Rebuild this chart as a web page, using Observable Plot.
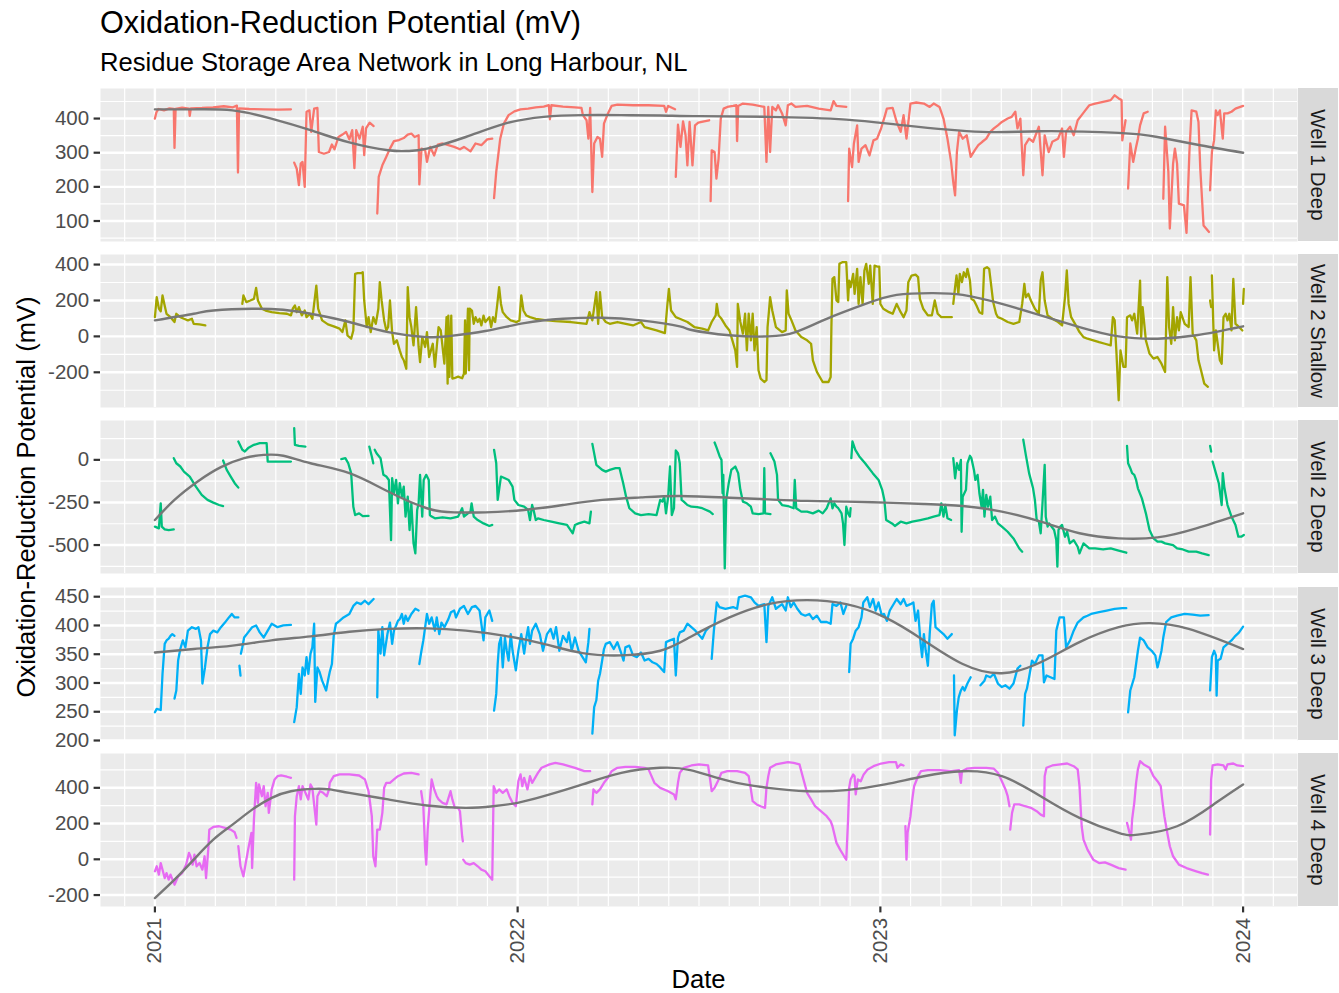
<!DOCTYPE html>
<html><head><meta charset="utf-8">
<script src="https://cdn.jsdelivr.net/npm/d3@7"></script>
<script src="https://cdn.jsdelivr.net/npm/@observablehq/plot@0.6"></script>
<style>
html,body{margin:0;padding:0;background:#fff;overflow:hidden;}
#chart{position:relative;width:1339px;height:993px;font-family:"Liberation Sans",Arial,sans-serif;color:#000;}
.abs{position:absolute;white-space:nowrap;line-height:1;}
</style></head><body><div id="chart"></div>
<script>
// ---------------- DATA ----------------
const titleText = "Oxidation-Reduction Potential (mV)";
const subtitleText = "Residue Storage Area Network in Long Harbour, NL";
const xTitle = "Date";
const yTitle = "Oxidation-Reduction Potential (mV)";
const wellNames = ["Well 1 Deep", "Well 2 Shallow", "Well 2 Deep", "Well 3 Deep", "Well 4 Deep"];
const yearTicks = [2021, 2022, 2023, 2024];
const yMajors = [[100,200,300,400],[-200,0,200,400],[-500,-250,0],[200,250,300,350,400,450],[-200,0,200,400]];
const yMinors = [[50,150,250,350,450],[-300,-100,100,300],[-625,-375,-125,125],[225,275,325,375,425],[-100,100,300,500]];
const yLimits = [[40,488],[-396,456],[-667,231],[200,466],[-264,592]];

// series: arrays of continuous segments of [decimal year, mV]
const well1Deep = [
 [[2021.000,400],[2021.004,418],[2021.010,428],[2021.025,424],[2021.040,430],[2021.052,428],[2021.054,314],[2021.057,428],[2021.075,432],[2021.094,429],[2021.096,408],[2021.099,430],[2021.130,431],[2021.160,433],[2021.190,436],[2021.215,433],[2021.226,438],[2021.229,242],[2021.232,430],[2021.260,428],[2021.300,427],[2021.340,426],[2021.375,427]],
 [[2021.384,271],[2021.391,253],[2021.397,205],[2021.402,268],[2021.407,273],[2021.413,200],[2021.418,420],[2021.426,424],[2021.431,361],[2021.439,429],[2021.448,431],[2021.452,302],[2021.466,297],[2021.480,302],[2021.488,324],[2021.495,310],[2021.506,346],[2021.517,353],[2021.527,361],[2021.536,339],[2021.544,366],[2021.550,255],[2021.555,366],[2021.564,341],[2021.573,376],[2021.577,293],[2021.582,371],[2021.592,388],[2021.603,378]],
 [[2021.613,122],[2021.617,229],[2021.627,263],[2021.638,288],[2021.648,312],[2021.659,334],[2021.673,337],[2021.686,343],[2021.697,353],[2021.707,356],[2021.716,346],[2021.727,351],[2021.729,207],[2021.735,312],[2021.745,307],[2021.750,273],[2021.759,317],[2021.770,292],[2021.780,324],[2021.793,327],[2021.809,322],[2021.825,317],[2021.841,310],[2021.852,317],[2021.870,304],[2021.884,327],[2021.900,322],[2021.916,339],[2021.930,341]],
 [[2021.935,167],[2021.941,244],[2021.952,341],[2021.962,385],[2021.975,410],[2021.991,421],[2022.008,427],[2022.029,429],[2022.050,433],[2022.072,435],[2022.086,439],[2022.089,398],[2022.093,439],[2022.125,435],[2022.158,433],[2022.176,431],[2022.180,410],[2022.190,395],[2022.195,341],[2022.200,431],[2022.206,185],[2022.211,327],[2022.220,346],[2022.227,341],[2022.233,288],[2022.238,385],[2022.249,415],[2022.259,437],[2022.275,441],[2022.318,439],[2022.361,439],[2022.404,437],[2022.409,420],[2022.415,437],[2022.434,427]],
 [[2022.436,229],[2022.442,382],[2022.449,317],[2022.456,392],[2022.463,351],[2022.468,263],[2022.474,390],[2022.482,263],[2022.489,380],[2022.498,388],[2022.514,392],[2022.528,395]],
 [[2022.532,158],[2022.535,307],[2022.543,302],[2022.548,224],[2022.554,283],[2022.560,400],[2022.568,429],[2022.578,434],[2022.594,437],[2022.603,439],[2022.605,334],[2022.608,437],[2022.621,444],[2022.648,441],[2022.680,434],[2022.686,273],[2022.691,434],[2022.696,302],[2022.702,434],[2022.712,424],[2022.718,439],[2022.729,415],[2022.739,380],[2022.745,439],[2022.755,444],[2022.766,434],[2022.798,437],[2022.830,429],[2022.863,424],[2022.871,451],[2022.879,437],[2022.906,434]],
 [[2022.911,158],[2022.914,312],[2022.922,258],[2022.927,327],[2022.936,380],[2022.940,273],[2022.948,312],[2022.959,322],[2022.970,292],[2022.981,336],[2022.991,341],[2023.002,371],[2023.013,410],[2023.018,429],[2023.034,431],[2023.045,390],[2023.056,361],[2023.064,410],[2023.072,341],[2023.083,444],[2023.099,447],[2023.120,444],[2023.136,434],[2023.147,444],[2023.163,434],[2023.174,400],[2023.185,341],[2023.195,273],[2023.201,214],[2023.206,175],[2023.211,302],[2023.217,361],[2023.227,341],[2023.238,351],[2023.249,288],[2023.260,307],[2023.270,322],[2023.281,332],[2023.292,341],[2023.303,361],[2023.313,371],[2023.324,380],[2023.335,390],[2023.351,400],[2023.362,405],[2023.372,420],[2023.378,371],[2023.386,400],[2023.394,234],[2023.399,322],[2023.410,341],[2023.421,332],[2023.437,376],[2023.447,234],[2023.453,351],[2023.464,302],[2023.474,332],[2023.490,341],[2023.501,371],[2023.506,288],[2023.512,361],[2023.523,376],[2023.533,351],[2023.544,395],[2023.555,410],[2023.565,424],[2023.576,439],[2023.592,444],[2023.614,449],[2023.635,454],[2023.646,468],[2023.657,459],[2023.665,454],[2023.667,336],[2023.676,395]],
 [[2023.683,195],[2023.689,327],[2023.697,273],[2023.705,317],[2023.710,341],[2023.716,380],[2023.726,415],[2023.737,420]],
 [[2023.780,165],[2023.785,376],[2023.794,244],[2023.798,78],[2023.807,268],[2023.812,312],[2023.818,268],[2023.823,151],[2023.837,146],[2023.844,65],[2023.852,302],[2023.858,424],[2023.871,420],[2023.877,390],[2023.882,253],[2023.891,87],[2023.898,78],[2023.906,68]],
 [[2023.909,190],[2023.914,302],[2023.920,336],[2023.925,424],[2023.930,410],[2023.936,424],[2023.944,341],[2023.948,415],[2023.957,415],[2023.968,420],[2023.979,429],[2024.000,437]]
];

const well2Shallow = [
 [[2021.000,107],[2021.005,218],[2021.011,155],[2021.016,140],[2021.021,228],[2021.027,170],[2021.032,126],[2021.043,107],[2021.054,80],[2021.059,126],[2021.070,107],[2021.080,98],[2021.091,89],[2021.102,98],[2021.107,70],[2021.123,67],[2021.139,61]],
 [[2021.241,181],[2021.244,228],[2021.252,191],[2021.263,200],[2021.273,209],[2021.279,270],[2021.284,200],[2021.295,154],[2021.305,144],[2021.322,135],[2021.343,130],[2021.364,126],[2021.375,117],[2021.380,154],[2021.386,172],[2021.391,135],[2021.397,163],[2021.405,117],[2021.413,144],[2021.418,107],[2021.427,126],[2021.434,98],[2021.439,181],[2021.445,283],[2021.450,154],[2021.461,89],[2021.477,67],[2021.493,56],[2021.509,43],[2021.517,24],[2021.525,89],[2021.531,5],[2021.541,-13],[2021.547,33],[2021.549,154],[2021.552,348],[2021.559,352],[2021.568,352],[2021.573,357],[2021.577,200],[2021.584,52],[2021.589,107],[2021.595,24],[2021.602,107],[2021.609,70],[2021.616,154],[2021.620,302],[2021.625,200],[2021.632,89],[2021.638,33],[2021.643,52],[2021.648,200],[2021.654,24],[2021.659,-41],[2021.667,-22],[2021.675,-78],[2021.681,-115],[2021.686,-133],[2021.693,-180],[2021.697,274],[2021.702,107],[2021.707,52],[2021.713,-50],[2021.720,163],[2021.727,-59],[2021.731,-143],[2021.737,-4],[2021.745,-59],[2021.750,24],[2021.756,-115],[2021.761,-78],[2021.766,-41],[2021.772,-170],[2021.777,-59],[2021.782,52],[2021.788,33],[2021.793,-59],[2021.798,-152],[2021.804,107],[2021.807,-263],[2021.809,116],[2021.812,-226],[2021.817,116],[2021.820,-235],[2021.825,-233],[2021.836,-224],[2021.847,-233],[2021.852,-207],[2021.855,89],[2021.857,-207],[2021.863,154],[2021.866,-189],[2021.868,154],[2021.874,144],[2021.879,70],[2021.884,107],[2021.890,80],[2021.895,98],[2021.900,61],[2021.906,116],[2021.911,80],[2021.922,107],[2021.927,52],[2021.932,107],[2021.938,80],[2021.943,163],[2021.949,274],[2021.954,181],[2021.959,135],[2021.970,107],[2021.981,89],[2021.997,80],[2022.005,89],[2022.010,228],[2022.016,144],[2022.024,116],[2022.034,107],[2022.050,98],[2022.083,89],[2022.104,85],[2022.147,80],[2022.190,70],[2022.198,135],[2022.206,89],[2022.217,246],[2022.222,70],[2022.227,246],[2022.233,107],[2022.243,80],[2022.254,70],[2022.275,80],[2022.318,61],[2022.340,80],[2022.350,52],[2022.383,33],[2022.406,18],[2022.413,181],[2022.417,265],[2022.423,144],[2022.436,107],[2022.447,98],[2022.468,80],[2022.487,52],[2022.509,43],[2022.525,33],[2022.535,80],[2022.546,117],[2022.549,181],[2022.554,117],[2022.562,98],[2022.573,61],[2022.584,33],[2022.592,-22],[2022.600,-78],[2022.605,-170],[2022.607,181],[2022.614,80],[2022.621,15],[2022.627,126],[2022.632,-78],[2022.637,126],[2022.643,-22],[2022.648,126],[2022.653,-78],[2022.659,52],[2022.664,-189],[2022.670,-235],[2022.680,-254],[2022.686,-244],[2022.689,52],[2022.693,144],[2022.696,218],[2022.702,144],[2022.712,52],[2022.729,24],[2022.739,33],[2022.742,256],[2022.747,126],[2022.755,89],[2022.766,33],[2022.782,-4],[2022.798,-22],[2022.809,-41],[2022.814,-133],[2022.825,-198],[2022.841,-254],[2022.857,-254],[2022.863,-226],[2022.865,52],[2022.868,320],[2022.873,330],[2022.879,200],[2022.884,191],[2022.887,404],[2022.895,413],[2022.906,413],[2022.911,200],[2022.914,311],[2022.918,274],[2022.925,348],[2022.929,237],[2022.936,376],[2022.940,181],[2022.945,330],[2022.951,181],[2022.956,367],[2022.961,404],[2022.968,293],[2022.972,394],[2022.979,181],[2022.984,394],[2022.991,389],[2022.997,389],[2023.000,181],[2023.008,154],[2023.024,135],[2023.034,126],[2023.045,181],[2023.056,135],[2023.064,107],[2023.072,144],[2023.077,302],[2023.086,339],[2023.097,344],[2023.104,330],[2023.109,209],[2023.118,154],[2023.131,117],[2023.142,117],[2023.150,200],[2023.158,126],[2023.168,107],[2023.185,107],[2023.197,107]],
 [[2023.201,181],[2023.206,274],[2023.210,339],[2023.215,237],[2023.219,348],[2023.225,302],[2023.230,357],[2023.236,330],[2023.240,376],[2023.247,311],[2023.251,209],[2023.258,200],[2023.265,172],[2023.273,135],[2023.281,126],[2023.286,376],[2023.294,385],[2023.300,376],[2023.305,293],[2023.311,191],[2023.319,126],[2023.324,107],[2023.335,98],[2023.351,80],[2023.367,70],[2023.383,80],[2023.391,181],[2023.397,293],[2023.401,218],[2023.408,237],[2023.415,200],[2023.426,154],[2023.437,126],[2023.442,311],[2023.447,357],[2023.453,200],[2023.461,117],[2023.474,98],[2023.490,80],[2023.501,61],[2023.509,218],[2023.514,367],[2023.519,181],[2023.526,107],[2023.539,61],[2023.549,24],[2023.560,-4],[2023.571,-13],[2023.587,-22],[2023.603,-32],[2023.619,-41],[2023.635,-50],[2023.641,107],[2023.646,89],[2023.651,-96],[2023.657,-356],[2023.662,-78],[2023.670,-170],[2023.676,-170],[2023.680,107],[2023.689,117],[2023.694,89],[2023.700,126],[2023.708,15],[2023.716,311],[2023.719,-4],[2023.723,163],[2023.732,-22],[2023.737,-59],[2023.742,-96],[2023.753,-124],[2023.764,-115],[2023.775,-152],[2023.785,-198],[2023.791,330],[2023.796,52],[2023.802,-41],[2023.807,163],[2023.812,-22],[2023.818,107],[2023.823,33],[2023.828,135],[2023.839,70],[2023.850,52],[2023.855,330],[2023.861,15],[2023.871,-22],[2023.877,-133],[2023.884,-189],[2023.893,-263],[2023.903,-281]],
 [[2023.909,200],[2023.912,163]],
 [[2023.914,339],[2023.920,-78],[2023.925,33],[2023.930,-41],[2023.936,-133],[2023.941,-152],[2023.946,107],[2023.952,126],[2023.957,89],[2023.962,126],[2023.968,33],[2023.973,320],[2023.979,70],[2023.984,61],[2023.989,52],[2023.998,33]],
 [[2024.000,181],[2024.002,265]]
];

const well2Deep = [
 [[2021.000,-392],[2021.011,-402],[2021.016,-255],[2021.019,-392],[2021.027,-408],[2021.038,-412],[2021.052,-408]],
 [[2021.052,10],[2021.059,-20],[2021.070,-39],[2021.080,-69],[2021.096,-98],[2021.113,-157],[2021.129,-206],[2021.145,-235],[2021.161,-251],[2021.177,-265],[2021.188,-271]],
 [[2021.188,-4],[2021.198,-59],[2021.209,-98],[2021.220,-137],[2021.230,-163]],
 [[2021.230,108],[2021.241,59],[2021.248,49],[2021.257,69],[2021.273,88],[2021.289,98],[2021.308,98],[2021.311,-10],[2021.343,-10],[2021.375,-10]],
 [[2021.384,186],[2021.386,88],[2021.397,82],[2021.415,78]],
 [[2021.514,4],[2021.525,10],[2021.533,-20],[2021.541,-78],[2021.547,-275],[2021.552,-324],[2021.563,-314],[2021.573,-330],[2021.589,-329]],
 [[2021.591,78],[2021.598,20],[2021.602,-20]],
 [[2021.606,59],[2021.611,39],[2021.622,10],[2021.630,-88],[2021.638,-98],[2021.645,-118],[2021.651,-471],[2021.654,-108],[2021.659,-196],[2021.665,-118],[2021.670,-255],[2021.675,-137],[2021.681,-216],[2021.686,-157],[2021.691,-333],[2021.697,-216],[2021.702,-412],[2021.707,-255],[2021.713,-490],[2021.718,-549],[2021.723,-294],[2021.727,-255],[2021.731,-88],[2021.737,-333],[2021.741,-118],[2021.748,-88],[2021.755,-118],[2021.758,-324],[2021.763,-333],[2021.772,-343],[2021.793,-337],[2021.815,-343],[2021.836,-333],[2021.847,-284],[2021.852,-333],[2021.863,-314],[2021.870,-304],[2021.873,-255],[2021.879,-333],[2021.890,-353],[2021.906,-373],[2021.922,-388],[2021.930,-382]],
 [[2021.935,59],[2021.941,-20],[2021.945,-235],[2021.954,-98],[2021.965,-108],[2021.975,-118],[2021.986,-157],[2021.991,-235],[2022.002,-265],[2022.018,-275],[2022.029,-294],[2022.034,-353],[2022.040,-265],[2022.045,-304],[2022.050,-353],[2022.056,-343],[2022.072,-353],[2022.093,-363],[2022.115,-373],[2022.136,-382],[2022.152,-431],[2022.158,-382],[2022.168,-373],[2022.184,-363],[2022.198,-373],[2022.202,-304]],
 [[2022.206,94],[2022.217,-29],[2022.233,-59],[2022.243,-69],[2022.254,-59],[2022.270,-49],[2022.281,-49],[2022.291,-137],[2022.299,-216],[2022.308,-284],[2022.324,-314],[2022.340,-324],[2022.361,-318],[2022.383,-324],[2022.393,-235],[2022.399,-245],[2022.404,-216],[2022.409,-314],[2022.415,-216],[2022.420,-39],[2022.425,-324],[2022.431,-284],[2022.436,55],[2022.442,39],[2022.447,-20],[2022.452,-235],[2022.458,-245],[2022.468,-265],[2022.479,-275],[2022.495,-278],[2022.509,-284],[2022.530,-304],[2022.538,-318]],
 [[2022.543,102],[2022.549,69],[2022.557,20],[2022.562,0],[2022.565,-196],[2022.567,-88],[2022.571,-637],[2022.575,-235],[2022.582,-137],[2022.589,-59],[2022.600,-39],[2022.608,-78],[2022.614,-176],[2022.621,-245],[2022.632,-255],[2022.643,-275],[2022.648,-314],[2022.664,-318],[2022.678,-314],[2022.680,-49],[2022.682,-314],[2022.697,-318]],
 [[2022.697,39],[2022.708,-10],[2022.715,-88],[2022.718,-235],[2022.729,-265],[2022.745,-271],[2022.761,-284],[2022.764,-118],[2022.768,-284],[2022.782,-304],[2022.798,-304],[2022.814,-314],[2022.830,-298],[2022.841,-314],[2022.852,-284],[2022.863,-226],[2022.868,-284],[2022.873,-255],[2022.879,-275],[2022.884,-284],[2022.893,-314],[2022.897,-373],[2022.901,-500],[2022.906,-275],[2022.911,-314],[2022.916,-333],[2022.918,-284]],
 [[2022.920,10],[2022.923,108],[2022.931,59],[2022.942,20],[2022.958,-20],[2022.979,-78],[2022.995,-118],[2023.005,-176],[2023.011,-235],[2023.016,-353],[2023.032,-373],[2023.040,-388],[2023.056,-363],[2023.072,-373],[2023.088,-363],[2023.110,-353],[2023.131,-343],[2023.147,-333],[2023.163,-324],[2023.168,-255],[2023.174,-333],[2023.179,-265],[2023.185,-343],[2023.195,-353]],
 [[2023.201,10],[2023.206,-108],[2023.211,-20],[2023.217,-59],[2023.222,0],[2023.224,-422],[2023.227,-216],[2023.236,-176],[2023.240,-20],[2023.247,24],[2023.251,10],[2023.258,-59],[2023.262,-118],[2023.268,-88],[2023.273,-196],[2023.279,-275],[2023.283,-176],[2023.287,-333],[2023.292,-206],[2023.297,-275],[2023.303,-216],[2023.308,-353],[2023.316,-333],[2023.324,-373],[2023.335,-392],[2023.351,-422],[2023.367,-461],[2023.383,-520],[2023.391,-539]],
 [[2023.394,118],[2023.401,29],[2023.410,-78],[2023.421,-167],[2023.426,-235],[2023.431,-353],[2023.437,-363],[2023.442,-431],[2023.447,-255],[2023.453,-29],[2023.456,-333],[2023.461,-392],[2023.465,-373],[2023.472,-392],[2023.479,-412],[2023.485,-471],[2023.488,-627],[2023.491,-412],[2023.496,-392],[2023.501,-382],[2023.509,-451],[2023.515,-422],[2023.522,-490],[2023.533,-471],[2023.544,-510],[2023.549,-549],[2023.560,-490],[2023.576,-520],[2023.592,-520],[2023.614,-526],[2023.635,-520],[2023.657,-533],[2023.678,-545]],
 [[2023.680,82],[2023.683,-20],[2023.689,-49],[2023.694,-78],[2023.700,-88],[2023.705,-118],[2023.710,-167],[2023.721,-226],[2023.732,-314],[2023.742,-412],[2023.753,-461],[2023.764,-480],[2023.775,-480],[2023.785,-490],[2023.807,-500],[2023.818,-520],[2023.834,-526],[2023.850,-539],[2023.871,-539],[2023.887,-549],[2023.905,-559]],
 [[2023.909,82],[2023.912,49]],
 [[2023.916,-10],[2023.925,-78],[2023.933,-137],[2023.941,-265],[2023.944,-78],[2023.948,-157],[2023.957,-265],[2023.968,-333],[2023.979,-382],[2023.987,-451],[2023.995,-451],[2024.002,-441]]
];

const well3Deep = [
 [[2021.000,249],[2021.005,255],[2021.016,253],[2021.021,316],[2021.027,368],[2021.032,374],[2021.038,377],[2021.043,382],[2021.048,385],[2021.054,382]],
 [[2021.054,273],[2021.059,287],[2021.064,339],[2021.070,359],[2021.077,374],[2021.084,362],[2021.091,391],[2021.102,397],[2021.113,394],[2021.120,397],[2021.127,374],[2021.131,299],[2021.138,327],[2021.145,362],[2021.152,385],[2021.161,391],[2021.172,388],[2021.182,397],[2021.193,405],[2021.204,414],[2021.212,420],[2021.220,414],[2021.230,414]],
 [[2021.233,330],[2021.236,313]],
 [[2021.237,351],[2021.241,362],[2021.246,379],[2021.257,388],[2021.268,397],[2021.279,400],[2021.289,388],[2021.300,379],[2021.311,391],[2021.322,403],[2021.338,397],[2021.354,400],[2021.375,401]],
 [[2021.384,232],[2021.391,258],[2021.397,316],[2021.402,281],[2021.407,327],[2021.413,313],[2021.418,345],[2021.423,316],[2021.429,351],[2021.434,362],[2021.439,403],[2021.442,267],[2021.448,327],[2021.454,319],[2021.461,304],[2021.472,287],[2021.477,304],[2021.482,319],[2021.488,333],[2021.493,382],[2021.499,403],[2021.509,408],[2021.520,414],[2021.536,420],[2021.547,434],[2021.557,440],[2021.568,437],[2021.579,443],[2021.589,437],[2021.603,446]],
 [[2021.613,275],[2021.616,391],[2021.622,351],[2021.627,397],[2021.632,348],[2021.641,385],[2021.648,405],[2021.654,368],[2021.659,391],[2021.665,400],[2021.670,408],[2021.675,411],[2021.681,420],[2021.686,403],[2021.691,417],[2021.697,408],[2021.707,420],[2021.718,429],[2021.727,426]],
 [[2021.729,333],[2021.734,353],[2021.740,374],[2021.750,420],[2021.756,403],[2021.763,414],[2021.772,391],[2021.777,414],[2021.784,385],[2021.790,405],[2021.798,397],[2021.809,411],[2021.816,423],[2021.825,426],[2021.830,414],[2021.841,429],[2021.852,434],[2021.863,420],[2021.874,432],[2021.884,434],[2021.895,426],[2021.900,403],[2021.906,374],[2021.911,414],[2021.922,426],[2021.930,408]],
 [[2021.935,252],[2021.941,281],[2021.945,333],[2021.949,368],[2021.954,379],[2021.959,327],[2021.965,379],[2021.970,356],[2021.975,339],[2021.981,385],[2021.986,356],[2021.995,322],[2022.002,356],[2022.010,385],[2022.018,351],[2022.024,379],[2022.029,397],[2022.034,368],[2022.040,391],[2022.050,403],[2022.061,385],[2022.070,356],[2022.081,385],[2022.091,394],[2022.099,377],[2022.106,397],[2022.115,356],[2022.125,382],[2022.136,371],[2022.141,388],[2022.149,356],[2022.158,379],[2022.168,356],[2022.179,345],[2022.188,336],[2022.195,371],[2022.198,394]],
 [[2022.206,212],[2022.211,258],[2022.217,270],[2022.222,304],[2022.227,316],[2022.233,339],[2022.238,359],[2022.243,368],[2022.254,371],[2022.265,359],[2022.275,371],[2022.286,351],[2022.292,339],[2022.297,362],[2022.308,365],[2022.318,348],[2022.329,345],[2022.340,353],[2022.350,339],[2022.361,342],[2022.372,336],[2022.383,333],[2022.393,327],[2022.404,319],[2022.409,371],[2022.420,374],[2022.431,377],[2022.436,313],[2022.442,379],[2022.447,388],[2022.458,391],[2022.468,403],[2022.479,397],[2022.490,391],[2022.509,377],[2022.519,391],[2022.528,397]],
 [[2022.535,342],[2022.541,391],[2022.549,440],[2022.556,432],[2022.573,429],[2022.594,432],[2022.605,429],[2022.610,449],[2022.627,452],[2022.643,449],[2022.653,440],[2022.664,434],[2022.680,437],[2022.686,371],[2022.691,434],[2022.702,449],[2022.712,429],[2022.729,437],[2022.739,426],[2022.745,449],[2022.753,432],[2022.761,440],[2022.771,429],[2022.782,420],[2022.793,417],[2022.804,420],[2022.814,411],[2022.825,417],[2022.836,406],[2022.852,406],[2022.863,403],[2022.868,437],[2022.879,434],[2022.890,440],[2022.898,420],[2022.906,434]],
 [[2022.914,319],[2022.918,368],[2022.925,377],[2022.932,391],[2022.940,397],[2022.948,414],[2022.953,440],[2022.964,449],[2022.971,432],[2022.980,446],[2022.987,426],[2022.995,440],[2023.004,417],[2023.010,420],[2023.018,408],[2023.026,426],[2023.045,446],[2023.056,437],[2023.064,446],[2023.072,434],[2023.083,437],[2023.091,440],[2023.097,408],[2023.104,426],[2023.111,368],[2023.115,345],[2023.120,385],[2023.125,356],[2023.131,330],[2023.136,385],[2023.142,437],[2023.147,443],[2023.152,397],[2023.163,391],[2023.174,385],[2023.185,377],[2023.197,385]],
 [[2023.203,313],[2023.205,209],[2023.211,252],[2023.216,275],[2023.222,287],[2023.227,293],[2023.232,287],[2023.240,299],[2023.249,310]],
 [[2023.276,296],[2023.287,304],[2023.292,313],[2023.303,310],[2023.313,316],[2023.324,299],[2023.335,293],[2023.345,296],[2023.356,290],[2023.367,299],[2023.378,325],[2023.386,330]],
 [[2023.394,226],[2023.399,281],[2023.404,290],[2023.410,310],[2023.418,339],[2023.426,333],[2023.437,348],[2023.447,348],[2023.451,301],[2023.458,313],[2023.469,310],[2023.480,307],[2023.485,391],[2023.494,414],[2023.506,414],[2023.512,362],[2023.523,374],[2023.533,391],[2023.544,405],[2023.560,414],[2023.571,417],[2023.581,420],[2023.603,423],[2023.624,426],[2023.646,429],[2023.667,430],[2023.678,430]],
 [[2023.683,249],[2023.689,287],[2023.700,310],[2023.705,333],[2023.710,356],[2023.716,379],[2023.726,374],[2023.737,362],[2023.748,356],[2023.758,348],[2023.764,327],[2023.769,339],[2023.775,356],[2023.780,379],[2023.788,406],[2023.802,414],[2023.818,417],[2023.839,420],[2023.861,419],[2023.882,417],[2023.905,418]],
 [[2023.909,287],[2023.914,345],[2023.920,356],[2023.925,348],[2023.927,278],[2023.930,339],[2023.938,342],[2023.946,362],[2023.957,368],[2023.968,374],[2023.979,382],[2023.989,388],[2024.000,398]]
];

const well4Deep = [
 [[2021.000,-67],[2021.005,-39],[2021.011,-86],[2021.016,-21],[2021.021,-58],[2021.027,-105],[2021.032,-77],[2021.038,-114],[2021.043,-86],[2021.054,-142],[2021.064,-95],[2021.075,-77],[2021.086,-30],[2021.094,36],[2021.098,17],[2021.104,-30],[2021.109,26],[2021.115,-39],[2021.123,-21],[2021.131,-58],[2021.137,17],[2021.141,-105],[2021.147,54],[2021.150,166],[2021.161,181],[2021.177,185],[2021.193,176],[2021.209,166],[2021.220,151],[2021.225,120]],
 [[2021.230,73],[2021.236,-39],[2021.244,-95],[2021.248,-49],[2021.257,54],[2021.266,148],[2021.268,-49],[2021.273,222],[2021.279,428],[2021.284,316],[2021.287,419],[2021.295,353],[2021.300,409],[2021.305,297],[2021.311,372],[2021.314,260],[2021.322,391],[2021.330,447],[2021.338,465],[2021.348,469],[2021.364,462],[2021.375,456]],
 [[2021.384,-114],[2021.386,241],[2021.391,353],[2021.397,409],[2021.402,335],[2021.407,409],[2021.415,372],[2021.423,335],[2021.429,419],[2021.434,400],[2021.445,194],[2021.448,353],[2021.455,381],[2021.464,372],[2021.474,353],[2021.480,391],[2021.482,428],[2021.493,465],[2021.509,475],[2021.536,475],[2021.563,469],[2021.579,447],[2021.589,381],[2021.598,241],[2021.602,17],[2021.608,-39],[2021.613,166],[2021.620,166],[2021.627,260],[2021.632,400],[2021.638,428],[2021.648,428],[2021.659,447],[2021.670,465],[2021.686,480],[2021.707,484],[2021.727,475]],
 [[2021.734,381],[2021.740,297],[2021.745,54],[2021.748,-30],[2021.752,166],[2021.759,353],[2021.763,447],[2021.770,391],[2021.777,353],[2021.782,335],[2021.793,316],[2021.804,307],[2021.815,381],[2021.820,335],[2021.827,288],[2021.836,288],[2021.841,269],[2021.847,129],[2021.849,101]],
 [[2021.850,-2],[2021.857,-21],[2021.868,-30],[2021.879,-21],[2021.890,-39],[2021.900,-58],[2021.911,-67],[2021.922,-95],[2021.930,-114],[2021.932,148],[2021.934,409],[2021.941,372],[2021.949,391],[2021.959,372],[2021.970,391],[2021.977,353],[2021.986,316],[2021.995,297],[2022.002,437],[2022.008,475],[2022.013,409],[2022.018,456],[2022.027,391],[2022.034,465],[2022.040,428],[2022.048,456],[2022.056,484],[2022.066,512],[2022.088,531],[2022.104,540],[2022.125,531],[2022.158,512],[2022.184,493],[2022.200,493]],
 [[2022.206,307],[2022.209,391],[2022.217,372],[2022.227,391],[2022.238,428],[2022.249,456],[2022.259,493],[2022.275,512],[2022.297,517],[2022.324,517],[2022.350,512],[2022.361,503],[2022.367,475],[2022.377,428],[2022.393,400],[2022.415,381],[2022.431,363],[2022.436,335],[2022.442,428],[2022.447,484],[2022.458,512],[2022.479,525],[2022.500,531],[2022.525,525],[2022.530,456],[2022.535,381],[2022.543,400],[2022.552,437],[2022.562,484],[2022.578,493],[2022.605,493],[2022.627,484],[2022.637,465],[2022.643,391],[2022.648,325],[2022.659,307],[2022.670,297],[2022.682,288],[2022.686,400],[2022.691,465],[2022.696,512],[2022.712,531],[2022.745,544],[2022.761,540],[2022.777,531],[2022.782,493],[2022.788,447],[2022.798,372],[2022.809,335],[2022.820,297],[2022.836,269],[2022.852,241],[2022.863,213],[2022.868,185],[2022.879,92],[2022.889,54],[2022.900,17],[2022.906,-2],[2022.911,222],[2022.914,400],[2022.918,447],[2022.925,475],[2022.929,465],[2022.932,363],[2022.938,447],[2022.946,437],[2022.954,475],[2022.965,503],[2022.981,521],[2023.002,536],[2023.024,544],[2023.043,544],[2023.047,512],[2023.056,531],[2023.064,525]],
 [[2023.069,185],[2023.072,-2],[2023.075,148],[2023.083,241],[2023.088,335],[2023.093,409],[2023.104,465],[2023.112,493],[2023.131,499],[2023.163,499],[2023.195,493],[2023.217,499],[2023.222,428],[2023.225,493],[2023.238,507],[2023.260,512],[2023.292,512],[2023.313,507],[2023.324,484],[2023.335,437],[2023.345,391],[2023.351,353],[2023.356,297]],
 [[2023.358,166],[2023.363,260],[2023.369,307],[2023.383,307],[2023.399,297],[2023.415,288],[2023.431,269],[2023.442,250],[2023.451,241],[2023.453,465],[2023.458,512],[2023.474,525],[2023.496,531],[2023.515,536],[2023.533,521],[2023.544,503],[2023.549,409],[2023.555,185],[2023.560,110],[2023.571,54],[2023.587,-2],[2023.603,-21],[2023.619,-17],[2023.635,-30],[2023.657,-49],[2023.676,-58]],
 [[2023.680,204],[2023.687,148],[2023.691,110],[2023.694,222],[2023.700,316],[2023.705,428],[2023.710,503],[2023.716,549],[2023.726,531],[2023.742,512],[2023.753,465],[2023.764,437],[2023.773,409],[2023.777,335],[2023.783,241],[2023.791,148],[2023.798,73],[2023.807,17],[2023.823,-30],[2023.844,-49],[2023.871,-67],[2023.887,-77],[2023.903,-86]],
 [[2023.909,138],[2023.912,447],[2023.916,525],[2023.930,531],[2023.946,525],[2023.952,503],[2023.957,531],[2023.973,536],[2023.984,525],[2024.000,521]]
];

// loess-style trend lines
const smooth1 = [[2021.000,427],[2021.107,427],[2021.214,424],[2021.321,400],[2021.429,366],[2021.536,330],[2021.643,307],[2021.697,305],[2021.750,312],[2021.857,346],[2021.965,385],[2022.072,405],[2022.179,410],[2022.286,410],[2022.393,409],[2022.500,407],[2022.691,405],[2022.906,397],[2023.066,380],[2023.281,361],[2023.442,363],[2023.657,358],[2023.764,346],[2023.871,324],[2024.000,300]];
const smooth2 = [[2021.000,89],[2021.107,126],[2021.161,144],[2021.268,154],[2021.354,148],[2021.429,126],[2021.536,80],[2021.643,24],[2021.750,-4],[2021.804,0],[2021.911,30],[2022.018,74],[2022.125,98],[2022.233,104],[2022.340,89],[2022.447,56],[2022.476,37],[2022.584,6],[2022.691,0],[2022.766,24],[2022.852,98],[2022.959,181],[2023.045,231],[2023.142,241],[2023.227,231],[2023.335,181],[2023.442,117],[2023.549,52],[2023.657,0],[2023.764,-13],[2023.871,6],[2024.000,56]];
const smooth3 = [[2021.000,-353],[2021.054,-235],[2021.118,-127],[2021.182,-43],[2021.246,10],[2021.300,29],[2021.354,24],[2021.429,-20],[2021.536,-78],[2021.643,-186],[2021.750,-284],[2021.825,-308],[2021.911,-308],[2022.018,-294],[2022.125,-265],[2022.233,-235],[2022.340,-220],[2022.447,-212],[2022.584,-222],[2022.691,-232],[2022.798,-241],[2022.906,-245],[2023.013,-251],[2023.120,-259],[2023.227,-271],[2023.335,-304],[2023.442,-363],[2023.549,-431],[2023.657,-461],[2023.764,-455],[2023.871,-402],[2024.000,-314]];
const smooth4 = [[2021.000,353],[2021.107,359],[2021.214,365],[2021.321,374],[2021.429,381],[2021.536,389],[2021.643,394],[2021.750,395],[2021.857,391],[2021.965,382],[2022.072,368],[2022.179,352],[2022.286,348],[2022.393,356],[2022.476,380],[2022.584,414],[2022.691,437],[2022.798,444],[2022.906,437],[2023.013,414],[2023.120,374],[2023.227,333],[2023.335,317],[2023.442,336],[2023.549,371],[2023.657,397],[2023.743,404],[2023.850,394],[2024.000,359]];
const smooth5 = [[2021.000,-217],[2021.054,-114],[2021.107,-2],[2021.161,110],[2021.214,194],[2021.268,278],[2021.322,344],[2021.375,381],[2021.439,394],[2021.482,391],[2021.536,372],[2021.643,335],[2021.750,301],[2021.857,288],[2021.932,297],[2022.000,316],[2022.072,353],[2022.179,419],[2022.286,484],[2022.393,512],[2022.476,499],[2022.584,437],[2022.691,400],[2022.798,381],[2022.906,387],[2023.013,419],[2023.120,465],[2023.227,493],[2023.335,465],[2023.442,353],[2023.549,232],[2023.657,148],[2023.710,138],[2023.818,185],[2023.925,316],[2024.000,419]];

// ---------------- STYLE / LAYOUT ----------------
const palette = ["#F8766D", "#A3A500", "#00BF7D", "#00B0F6", "#E76BF3"];
const smoothColor = "#777777";
const FONT = "'Liberation Sans', Arial, Helvetica, sans-serif";
const W = 1339, ML = 100, MR = 42;
const PANEL_TOPS = [88, 254, 420, 587, 753];
const PANEL_H = 153;
const X_DOMAIN = [2020.85, 2024.15];

const series = [well1Deep, well2Shallow, well2Deep, well3Deep, well4Deep];
const smooths = [smooth1, smooth2, smooth3, smooth4, smooth5];
const monthGrid = d3.range(-1, 39).map(k => 2021 + k / 12)
  .filter(t => Math.abs(t - Math.round(t)) > 1e-6 && t > X_DOMAIN[0] && t < X_DOMAIN[1]);
const fmt = d => String(d);

const root = document.getElementById("chart");
function addText(txt, css) {
  const d = document.createElement("div");
  d.className = "abs";
  d.textContent = txt;
  Object.assign(d.style, css);
  root.appendChild(d);
  return d;
}

addText(titleText, {left: "100px", top: "8px", fontSize: "30.7px"});
addText(subtitleText, {left: "100px", top: "50px", fontSize: "25.6px"});

series.forEach((segs, i) => {
  const last = i === series.length - 1;
  const mt = 12, mb = last ? 87 : 12;
  const rows = segs.flatMap((seg, k) => seg.map(([t, v]) => ({t, v, seg: k})));
  const sm = smooths[i].map(([t, v]) => ({t, v}));
  const svg = Plot.plot({
    width: W, height: PANEL_H + mt + mb,
    marginLeft: ML, marginRight: MR, marginTop: mt, marginBottom: mb,
    x: last
      ? {type: "linear", domain: X_DOMAIN, label: null, axis: "bottom", ticks: yearTicks, tickFormat: fmt,
         tickSize: 6.4, tickPadding: 5, tickRotate: -90}
      : {type: "linear", domain: X_DOMAIN, label: null, axis: null},
    y: {type: "linear", domain: yLimits[i], label: null, axis: "left", ticks: yMajors[i], tickFormat: fmt,
        tickSize: 6.4, tickPadding: 5},
    style: {background: "transparent", overflow: "visible", fontFamily: FONT, fontSize: "20.5px", color: "#4D4D4D"},
    marks: [
      Plot.frame({fill: "#EBEBEB", stroke: null}),
      Plot.ruleX(monthGrid, {stroke: "white", strokeWidth: 1.2}),
      Plot.ruleY(yMinors[i], {stroke: "white", strokeWidth: 1.2}),
      Plot.ruleX(yearTicks, {stroke: "white", strokeWidth: 2.4}),
      Plot.ruleY(yMajors[i], {stroke: "white", strokeWidth: 2.4}),
      Plot.line(rows, {x: "t", y: "v", z: "seg", stroke: palette[i], strokeWidth: 2.3}),
      Plot.line(sm, {x: "t", y: "v", stroke: smoothColor, strokeWidth: 2.4, curve: "natural"})
    ]
  });
  // ggplot-like axis styling: thicker dark-grey ticks, grey tick labels
  svg.querySelectorAll("g.tick line, [aria-label$='tick'] path").forEach(el => {
    el.setAttribute("stroke", "#333333");
    el.setAttribute("stroke-width", "2.2");
  });
  svg.querySelectorAll("text").forEach(el => {
    el.setAttribute("font-size", "20.5");
    el.setAttribute("fill", "#4D4D4D");
  });
  svg.style.position = "absolute";
  svg.style.left = "0px";
  svg.style.top = (PANEL_TOPS[i] - mt) + "px";
  svg.style.maxWidth = "none";
  root.appendChild(svg);

  // facet strip on the right
  const strip = document.createElement("div");
  Object.assign(strip.style, {position: "absolute", left: "1298px", top: PANEL_TOPS[i] + "px",
    width: "40px", height: PANEL_H + "px", background: "#D9D9D9"});
  const lab = document.createElement("div");
  lab.textContent = wellNames[i];
  Object.assign(lab.style, {position: "absolute", left: "50%", top: "50%", whiteSpace: "nowrap",
    lineHeight: "1", fontSize: "20.5px", color: "#1A1A1A", transform: "translate(-50%,-50%) rotate(90deg)"});
  strip.appendChild(lab);
  root.appendChild(strip);
});

addText(xTitle, {left: "698.5px", top: "980px", fontSize: "25.6px", transform: "translate(-50%,-50%)"});
addText(yTitle, {left: "27px", top: "497px", fontSize: "25.6px", transform: "translate(-50%,-50%) rotate(-90deg)"});
</script></body></html>
